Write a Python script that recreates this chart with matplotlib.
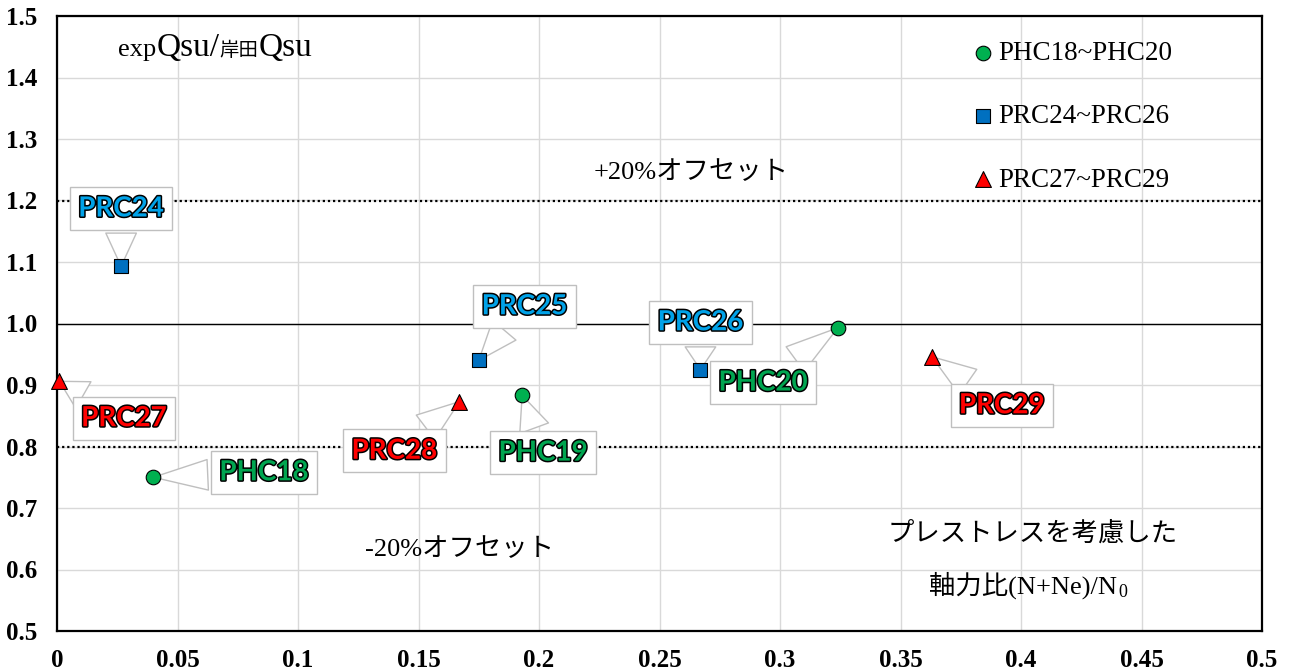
import matplotlib
matplotlib.use("Agg")
import matplotlib.pyplot as plt
import matplotlib.patheffects as pe
from matplotlib.ticker import MultipleLocator, FuncFormatter
from matplotlib.offsetbox import TextArea, HPacker, AnchoredOffsetbox

# series values
phc_names = ["PHC18", "PHC19", "PHC20"]
phc_x = [0.040, 0.193, 0.324]
phc_y = [0.750, 0.883, 0.993]

prc_b_names = ["PRC24", "PRC25", "PRC26"]
prc_b_x = [0.0266, 0.175, 0.267]
prc_b_y = [1.093, 0.940, 0.925]

prc_r_names = ["PRC27", "PRC28", "PRC29"]
prc_r_x = [0.001, 0.167, 0.363]
prc_r_y = [0.906, 0.873, 0.946]

legend_labels = ["PHC18~PHC20", "PRC24~PRC26", "PRC27~PRC29"]

# where the callout boxes sit (layout only)
label_pos = {
    "PRC24": (0.0266, 1.187), "PRC25": (0.194, 1.028), "PRC26": (0.267, 1.002),
    "PRC27": (0.0278, 0.846), "PRC28": (0.140, 0.793), "PRC29": (0.392, 0.867),
    "PHC18": (0.0859, 0.758), "PHC19": (0.2017, 0.790), "PHC20": (0.293, 0.904),
}

SERIF = "Liberation Serif"
JP = ["Liberation Serif", "Noto Sans CJK JP"]

fig = plt.figure(figsize=(12.92, 6.72), dpi=100)
ax = fig.add_axes([57 / 1292, 1 - 631 / 672, 1205 / 1292, 615 / 672])

ax.set_xlim(0, 0.5)
ax.set_ylim(0.5, 1.5)
ax.xaxis.set_major_locator(MultipleLocator(0.05))
ax.yaxis.set_major_locator(MultipleLocator(0.1))
ax.xaxis.set_major_formatter(FuncFormatter(lambda v, p: f"{round(v, 2):g}"))
ax.yaxis.set_major_formatter(FuncFormatter(lambda v, p: f"{v:.1f}"))
ax.grid(True, color="#d9d9d9", lw=1)
ax.set_axisbelow(True)
for s in ax.spines.values():
    s.set_linewidth(1.6)
    s.set_color("black")
ax.tick_params(length=0, labelsize=18)
ax.tick_params(axis="x", pad=13)
ax.tick_params(axis="y", pad=14)
for lab in ax.get_xticklabels() + ax.get_yticklabels():
    lab.set_fontfamily(SERIF)
    lab.set_fontweight("bold")

ax.axhline(1.0, color="black", lw=1, zorder=2)
ax.axhline(1.2, color="black", lw=1.6, ls=(0, (1, 1.3)), zorder=2)
ax.axhline(0.8, color="black", lw=1.6, ls=(0, (1, 1.3)), zorder=2)

ax.scatter(phc_x, phc_y, s=110, marker="o", c="#00B050", edgecolors="black",
           linewidths=0.8, zorder=5, clip_on=False, label=legend_labels[0])
ax.scatter(prc_b_x, prc_b_y, s=110, marker="s", c="#0070C0", edgecolors="black",
           linewidths=0.8, zorder=5, clip_on=False, label=legend_labels[1])
ax.scatter(prc_r_x, prc_r_y, s=130, marker="^", c="#FF0000", edgecolors="black",
           linewidths=0.8, zorder=5, clip_on=False, label=legend_labels[2])


def callout(names, xs, ys, color):
    for n, x, y in zip(names, xs, ys):
        t = ax.annotate(
            n, xy=(x, y), xytext=label_pos[n], ha="center", va="center",
            fontsize=20, fontweight="bold", family="Lato", color=color, zorder=4,
            bbox=dict(boxstyle="square,pad=0.3", fc="white", ec="#bfbfbf", lw=1),
            arrowprops=dict(arrowstyle="wedge,tail_width=1.1,shrink_factor=0.5",
                            fc="white", ec="#bfbfbf", lw=1, shrinkB=0),
        )
        t.set_path_effects([pe.Stroke(linewidth=2.2, foreground="black"), pe.Normal()])


callout(phc_names, phc_x, phc_y, "#00A550")
callout(prc_b_names, prc_b_x, prc_b_y, "#00A2E8")
callout(prc_r_names, prc_r_x, prc_r_y, "#FF0000")

ax.legend(loc="upper left", bbox_to_anchor=(0.746, 0.982), frameon=False,
          handletextpad=0.05, handlelength=1.0, labelspacing=1.42,
          borderpad=0, scatterpoints=1, prop={"family": SERIF, "size": 19.5})

# title-like text with mixed sizes
parts = [
    TextArea("exp", textprops=dict(size=19, family=SERIF)),
    TextArea("Qsu/", textprops=dict(size=24, family=SERIF)),
    TextArea("岸田", textprops=dict(size=14, family="Noto Sans CJK JP")),
    TextArea("Qsu", textprops=dict(size=24, family=SERIF)),
]
pack = HPacker(children=parts, align="baseline", pad=0, sep=0)
ab = AnchoredOffsetbox(loc="center", child=pack, frameon=False, pad=0, borderpad=0,
                       bbox_to_anchor=((215 - 57) / 1205, (631 - 48) / 615),
                       bbox_transform=ax.transAxes)
ax.add_artist(ab)

ax.text(0.263, 1.2455, "+20%オフセット", ha="center", va="center", fontsize=19, family=JP)
ax.text(0.167, 0.6325, "-20%オフセット", ha="center", va="center", fontsize=19, family=JP)
ax.text(0.405, 0.6585, "プレストレスを考慮した", ha="center", va="center", fontsize=19,
        family=JP)
main = ax.text(0.401, 0.574, "軸力比(N+Ne)/N", ha="center", va="center", fontsize=19,
               family=JP)
ax.annotate("0", xy=(1, 0.12), xycoords=main, xytext=(0.5, -4),
            textcoords="offset points", ha="left", va="bottom", fontsize=13,
            family=SERIF)

fig.savefig("out.png", dpi=100)
